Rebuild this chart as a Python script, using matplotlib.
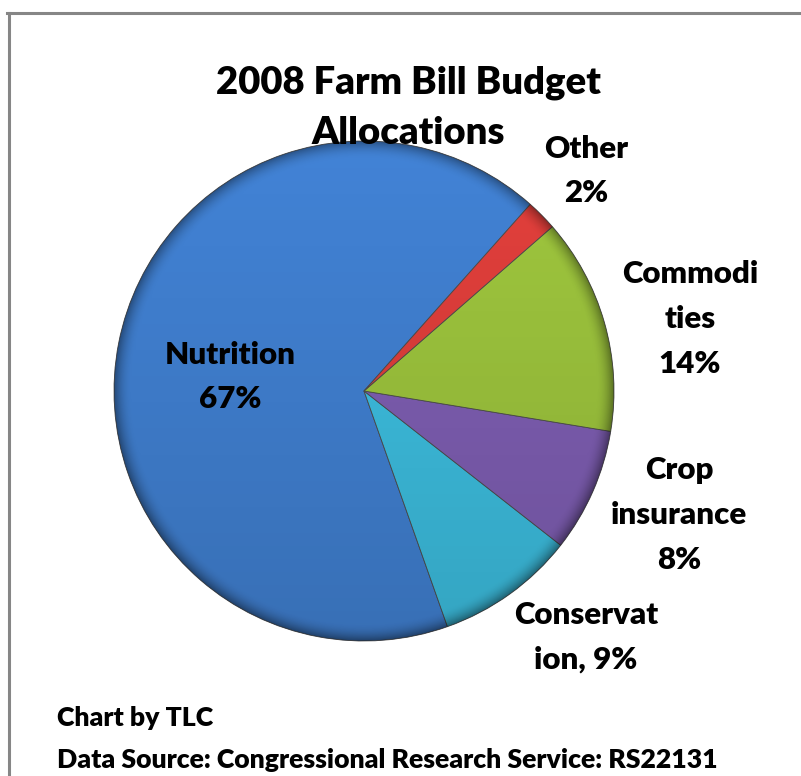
import numpy as np
import matplotlib
matplotlib.use('Agg')
import matplotlib.pyplot as plt
from matplotlib.lines import Line2D
from matplotlib.patches import Circle

# data
categories = ['Nutrition', 'Conservation', 'Crop insurance', 'Commodities', 'Other']
shares = [67, 9, 8, 14, 2]
label_texts = ['Nutrition\n67%', 'Conservat\nion, 9%', 'Crop\ninsurance\n8%',
               'Commodi\nties\n14%', 'Other\n2%']
colors = ['#4283d6', '#3ec2e4', '#8160b6', '#a0c83e', '#e4403c']

title_lines = ['2008 Farm Bill Budget', 'Allocations']
footer = ['Chart by TLC', 'Data Source: Congressional Research Service: RS22131']

W, H = 801, 776
FONT = 'Lato'

fig = plt.figure(figsize=(W / 100, H / 100), dpi=100)
ax = fig.add_axes([0, 0, 1, 1])

cx, cy, r = 364, H - 391, 250
wedges, _ = ax.pie(shares, colors=colors, startangle=48.3, counterclock=True,
                   center=(cx, cy), radius=r,
                   wedgeprops=dict(edgecolor='#4d4d4d', linewidth=0.6))
ax.set_xlim(0, W)
ax.set_ylim(0, H)
ax.axis('off')

# soft shading like the excel bevel
n = 400
Y, X = np.mgrid[-1:1:n * 1j, -1:1:n * 1j]
rr = np.sqrt(X ** 2 + Y ** 2)
alpha = 0.15 * (1 - Y) / 2 + 0.35 * np.clip((rr - 0.93) / 0.07, 0, 1) ** 2
shade = np.zeros((n, n, 4))
shade[..., 3] = np.clip(alpha, 0, 1)
im = ax.imshow(shade, extent=(cx - r, cx + r, cy - r, cy + r), origin='lower',
               zorder=3, interpolation='bilinear')
clip = Circle((cx, cy), r, transform=ax.transData)
im.set_clip_path(clip)
ax.set_xlim(0, W)
ax.set_ylim(0, H)

# labels (layout positions in pixels from top-left)
label_pos = [(230, 377), (586, 637), (679, 515), (690, 319), (586, 171)]
for txt, (px, py) in zip(label_texts, label_pos):
    ax.text(px, H - py, txt, ha='center', va='center', multialignment='center',
            fontsize=22.5, fontweight='heavy', family=FONT, linespacing=1.72,
            zorder=5)

for line, py in zip(title_lines, [83, 133]):
    ax.text(408, H - py, line, ha='center', va='center', fontsize=27.5,
            fontweight='heavy', family=FONT, zorder=5)

ax.text(57, H - 718, footer[0], ha='left', va='center', fontsize=19.2,
        fontweight='heavy', family=FONT)
ax.text(57, H - 760, footer[1], ha='left', va='center', fontsize=19.2,
        fontweight='heavy', family=FONT)

# chart border (top and left edges visible)
fig.add_artist(Line2D([7 / W, 1], [1 - 13 / H, 1 - 13 / H], color='#868686',
                      lw=2.2, transform=fig.transFigure))
fig.add_artist(Line2D([9 / W, 9 / W], [0, 1 - 13 / H], color='#868686',
                      lw=2.2, transform=fig.transFigure))

fig.savefig('out.png', dpi=100)
